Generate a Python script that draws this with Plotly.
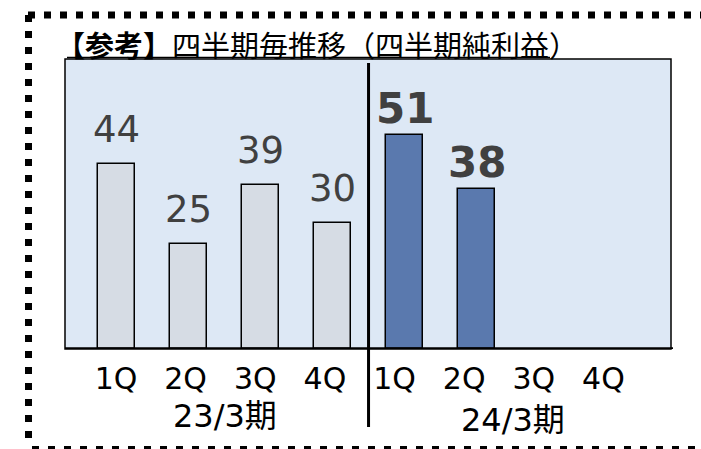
import plotly.graph_objects as go

# ---- data ----
quarters = ["1Q", "2Q", "3Q", "4Q"]
periods = ["23/3期", "24/3期"]
fy23_profit = [44, 25, 39, 30]
fy24_profit = [51, 38]
title_bold = "【参考】"
title_rest = "四半期毎推移（四半期純利益）"

# ---- styles ----
W, H = 701, 449
L, R, T, B = 65, 671, 59, 349          # plot area in pixels
GRAY_FILL = "#d6dce4"
BLUE_FILL = "#5a79ae"
PLOT_BG = "#dde8f5"
LABEL_COL = "#404040"
FONT = "DejaVu Sans, Noto Sans CJK JP, sans-serif"
CJK = "Noto Sans CJK JP, sans-serif"


def px_x(p):
    return (p - L) / (R - L)


def px_y(p):
    return (B - p) / (B - T)


all_quarters = quarters + quarters
values = fy23_profit + fy24_profit + [None] * (len(quarters) - len(fy24_profit))
idx = list(range(len(all_quarters)))
colors = [GRAY_FILL] * len(fy23_profit) + [BLUE_FILL] * (len(all_quarters) - len(fy23_profit))

fig = go.Figure()
fig.add_trace(go.Bar(
    x=idx, y=values, width=0.51,
    marker=dict(color=colors, line=dict(color="#000000", width=1.5)),
    hoverinfo="skip", showlegend=False,
))
# invisible helper trace for the separate label axis
fig.add_trace(go.Scatter(x=idx, y=[None] * len(idx), xaxis="x2", mode="markers",
                         showlegend=False, hoverinfo="skip"))

annotations = []
for i, v in enumerate(fy23_profit):
    annotations.append(dict(x=i, y=v, xref="x", yref="y", text=str(v), showarrow=False,
                            yanchor="bottom", yshift=11,
                            font=dict(family=FONT, size=37, color=LABEL_COL)))
for j, v in enumerate(fy24_profit):
    i = len(fy23_profit) + j
    annotations.append(dict(x=i, y=v, xref="x", yref="y", text=f"<b>{v}</b>", showarrow=False,
                            yanchor="bottom", yshift=0,
                            font=dict(family=FONT, size=42, color=LABEL_COL)))
# period labels
n = len(quarters)
annotations.append(dict(x=(n - 1) / 2, y=px_y(416), xref="x", yref="paper", text=periods[0],
                        xanchor="center", yanchor="middle", showarrow=False,
                        font=dict(family=FONT, size=32, color="#000000")))
annotations.append(dict(x=n + (n - 1) / 2, y=px_y(420), xref="x", yref="paper", text=periods[1],
                        xanchor="center", yanchor="middle", showarrow=False,
                        font=dict(family=FONT, size=32, color="#000000")))
# title
annotations.append(dict(x=px_x(54), y=px_y(44), xref="paper", yref="paper",
                        xanchor="left", yanchor="middle",
                        text=f"<b>{title_bold}</b>{title_rest}", showarrow=False,
                        font=dict(family=CJK, size=29, color="#000000")))

shapes = [
    # plot frame
    dict(type="rect", xref="paper", yref="paper", x0=0, x1=1, y0=0, y1=1,
         line=dict(color="#000000", width=1.5), layer="above"),
    # thick baseline
    dict(type="line", xref="paper", yref="y", x0=0, x1=px_x(673), y0=0, y1=0,
         line=dict(color="#000000", width=3.5), layer="above"),
    # divider between fiscal years
    dict(type="line", xref="x", yref="paper", x0=n - 0.5, x1=n - 0.5,
         y0=px_y(63), y1=px_y(427), line=dict(color="#000000", width=3), layer="above"),
    # title underline
    dict(type="line", xref="paper", yref="paper", x0=px_x(67), x1=px_x(550),
         y0=px_y(57.5), y1=px_y(57.5), line=dict(color="#000000", width=1.5), layer="above"),
    # dotted outer border
    dict(type="line", xref="paper", yref="paper", x0=px_x(28), x1=px_x(710),
         y0=px_y(15), y1=px_y(15), line=dict(color="#000000", width=7, dash="7px,9px")),
    dict(type="line", xref="paper", yref="paper", x0=px_x(28.5), x1=px_x(28.5),
         y0=px_y(15), y1=px_y(446), line=dict(color="#000000", width=7, dash="7px,9px")),
    dict(type="line", xref="paper", yref="paper", x0=px_x(32), x1=px_x(710),
         y0=px_y(449), y1=px_y(449), line=dict(color="#000000", width=6, dash="7px,9px")),
]

fig.update_layout(
    width=W, height=H,
    margin=dict(l=L, r=W - R, t=T, b=H - B, pad=0),
    paper_bgcolor="#ffffff", plot_bgcolor=PLOT_BG,
    bargap=0,
    xaxis=dict(range=[-0.715, 7.70], showgrid=False, zeroline=False, showticklabels=False,
               ticks="", fixedrange=True),
    xaxis2=dict(range=[-0.732, 7.97], overlaying="x", side="bottom", anchor="y",
                tickvals=idx, ticktext=all_quarters, showgrid=False, zeroline=False,
                ticks="", ticklabelstandoff=9,
                tickfont=dict(family=FONT, size=30, color="#000000")),
    yaxis=dict(range=[0, 69], showgrid=False, zeroline=False, showticklabels=False,
               ticks="", fixedrange=True),
    annotations=annotations,
    shapes=shapes,
)

fig.write_html("out.html", config={"displayModeBar": False},
               post_script="document.body.style.margin='0';")
